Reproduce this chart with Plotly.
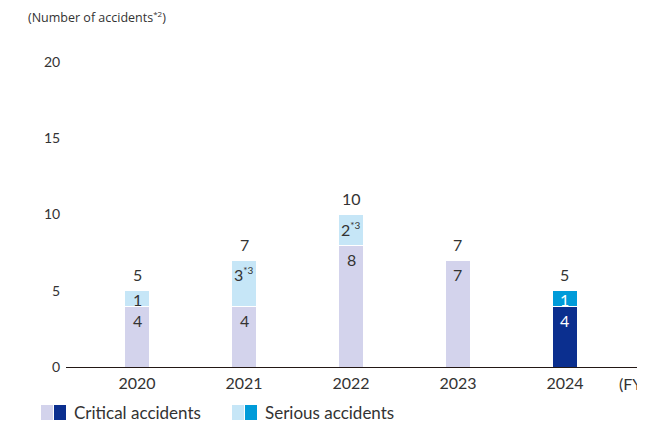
import plotly.graph_objects as go

years = ["2020", "2021", "2022", "2023", "2024"]
critical = [4, 4, 8, 7, 4]
serious = [1, 3, 2, 0, 1]
serious_labels = ["1", "3<sup><span style='font-size:10px'>*3</span></sup>",
                  "2<sup><span style='font-size:10px'>*3</span></sup>", "", "1"]
critical_labels = ["4", "4", "8", "7", "4"]
totals = [c + s for c, s in zip(critical, serious)]
y_ticks = [0, 5, 10, 15, 20]

CRIT_LIGHT = "#d3d3ec"
CRIT_DARK = "#0b2f8f"
SER_LIGHT = "#c6e6f7"
SER_DARK = "#009bd9"
TXT = "#333333"
FONT = "Lato"

# the page shows the figure 8px from its top-left corner
OX, OY = 8, 8
W, H = 645 - OX, 427 - OY
L, R, T = 66 - OX, 0, 62 - OY
B = H - (367 - OY)
pw, ph = W - L - R, H - T - B
UNIT = ph / 20.0  # pixels per accident


def px(x):
    return (x - OX - L) / pw


def py(y):
    return (H - (y - OY) - B) / ph


xs = list(range(len(years)))
crit_colors = [CRIT_LIGHT] * 4 + [CRIT_DARK]
ser_colors = [SER_LIGHT] * 4 + [SER_DARK]
crit_txt = [TXT] * 4 + ["white"]
ser_txt = [TXT] * 4 + ["white"]

fig = go.Figure()
fig.add_trace(go.Bar(
    x=xs, y=critical, width=0.23, marker=dict(color=crit_colors, line=dict(color="white", width=1)),
    hoverinfo="skip", showlegend=False,
))
fig.add_trace(go.Bar(
    x=xs, y=serious, width=0.23, marker=dict(color=ser_colors, line=dict(color="white", width=1)),
    hoverinfo="skip", showlegend=False,
))

annotations = []


def seg_label(x, base, val, text, color):
    if not text:
        return
    top = base + val
    off = min(14.0, val * UNIT / 2.0 + 1)
    annotations.append(dict(x=x, y=top, xref="x", yref="y", text=text, showarrow=False,
                            yanchor="middle", yshift=-off,
                            font=dict(family=FONT, size=16, color=color)))


for i, x in enumerate(xs):
    seg_label(x, 0, critical[i], critical_labels[i], crit_txt[i])
    seg_label(x, critical[i], serious[i], serious_labels[i], ser_txt[i])

for x, t in zip(xs, totals):
    annotations.append(dict(x=x, y=t, xref="x", yref="y", text=str(t), showarrow=False,
                            yanchor="middle", yshift=16, font=dict(family=FONT, size=16, color=TXT)))

annotations.append(dict(x=px(26), y=py(17), xref="paper", yref="paper", xanchor="left", yanchor="middle",
                        text="(Number of accidents<sup><span style='font-size:8px'>*2</span></sup>)",
                        showarrow=False, font=dict(family="Open Sans", size=12.5, color=TXT)))
annotations.append(dict(x=px(617), y=py(383), xref="paper", yref="paper", xanchor="left", yanchor="middle",
                        text="(FY)", showarrow=False, font=dict(family=FONT, size=16, color=TXT)))

shapes = []
legend_items = [
    ("Critical accidents", CRIT_LIGHT, CRIT_DARK, 41),
    ("Serious accidents", SER_LIGHT, SER_DARK, 232),
]
for name, c1, c2, x0 in legend_items:
    shapes.append(dict(type="rect", xref="paper", yref="paper", x0=px(x0), x1=px(x0 + 12),
                       y0=py(420), y1=py(405), fillcolor=c1, line=dict(width=0)))
    shapes.append(dict(type="rect", xref="paper", yref="paper", x0=px(x0 + 13), x1=px(x0 + 25),
                       y0=py(420), y1=py(405), fillcolor=c2, line=dict(width=0)))
    annotations.append(dict(x=px(x0 + 31), y=py(413), xref="paper", yref="paper", xanchor="left",
                            yanchor="middle", text=name, showarrow=False,
                            font=dict(family=FONT, size=17, color=TXT)))

fig.update_layout(
    width=W, height=H, margin=dict(l=L, r=R, t=T, b=B),
    barmode="stack", plot_bgcolor="white", paper_bgcolor="white",
    font=dict(family=FONT, color=TXT),
    annotations=annotations, shapes=shapes,
    xaxis=dict(range=[-0.664, 4.748], tickvals=xs, ticktext=years, showline=True,
               linecolor="#231815", linewidth=1, showgrid=False, zeroline=False,
               ticks="outside", ticklen=2, tickcolor="rgba(0,0,0,0)",
               tickfont=dict(family=FONT, size=16, color=TXT)),
    yaxis=dict(range=[0, 20], tickvals=y_ticks, showline=False, showgrid=False, zeroline=False,
               ticks="outside", ticklen=2, tickcolor="rgba(0,0,0,0)",
               tickfont=dict(family=FONT, size=14, color=TXT)),
)

fig.write_html("out.html")
